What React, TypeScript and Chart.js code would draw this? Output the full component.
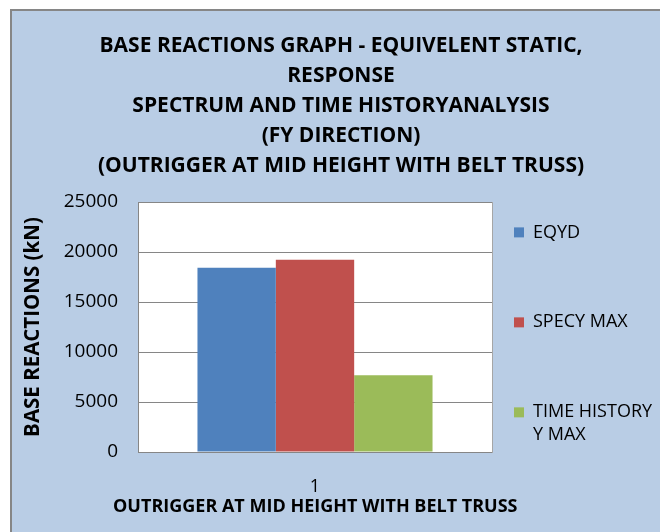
import React, { useEffect, useRef } from "react";
import { Chart, registerables } from "chart.js";

Chart.register(...registerables);

const categories = ["1"];
const seriesNames = ["EQYD", "SPECY MAX", "TIME HISTORY Y MAX"];
const legendLines = [["EQYD", "", ""], ["SPECY MAX", "", ""], ["TIME HISTORY", "Y MAX", "", ""]];
const eqydValues = [18430];
const specyMaxValues = [19230];
const timeHistoryValues = [7670];
const seriesColors = ["#4f81bd", "#c0504d", "#9bbb59"];
const titleLines = [
  "BASE REACTIONS GRAPH - EQUIVELENT STATIC,",
  "RESPONSE",
  "SPECTRUM AND TIME HISTORYANALYSIS",
  "(FY DIRECTION)",
  "(OUTRIGGER AT MID HEIGHT WITH BELT TRUSS)",
];
const yTitle = "BASE REACTIONS (kN)";
const xTitle = "OUTRIGGER AT MID HEIGHT WITH BELT TRUSS";
const yMin = 0;
const yMax = 25000;
const yStep = 5000;

const FONT = "'Open Sans'";

export default function App() {
  const ref = useRef<HTMLCanvasElement | null>(null);

  useEffect(() => {
    const canvas = ref.current;
    if (!canvas) return;

    const plotBg = {
      id: "plotBg",
      beforeDraw(chart: any) {
        const { ctx, chartArea } = chart;
        ctx.save();
        ctx.fillStyle = "#ffffff";
        ctx.fillRect(chartArea.left, chartArea.top, chartArea.right - chartArea.left, chartArea.bottom - chartArea.top);
        ctx.restore();
      },
      afterDraw(chart: any) {
        const { ctx, chartArea } = chart;
        ctx.save();
        ctx.strokeStyle = "#a6a6a6";
        ctx.lineWidth = 1;
        ctx.beginPath();
        ctx.moveTo(Math.round(chartArea.right) + 0.5, chartArea.top);
        ctx.lineTo(Math.round(chartArea.right) + 0.5, chartArea.bottom + 1);
        ctx.stroke();
        ctx.restore();
      },
    };

    const chart = new Chart(canvas, {
      type: "bar",
      data: {
        labels: categories,
        datasets: [
          { label: seriesNames[0], data: eqydValues, backgroundColor: seriesColors[0] },
          { label: seriesNames[1], data: specyMaxValues, backgroundColor: seriesColors[1] },
          { label: seriesNames[2], data: timeHistoryValues, backgroundColor: seriesColors[2] },
        ],
      },
      options: {
        responsive: false,
        animation: false,
        layout: { padding: { left: 22, top: 0, right: 0, bottom: 16 } },
        datasets: { bar: { barPercentage: 1, categoryPercentage: 0.664, borderWidth: 0 } },
        plugins: {
          tooltip: { enabled: false },
          title: {
            display: true,
            fullSize: true,
            text: titleLines,
            color: "#000000",
            font: { family: FONT, size: 21, weight: "bold", lineHeight: 1.4286 },
            padding: { top: 31, bottom: 21 },
          },
          subtitle: {
            display: true,
            position: "bottom",
            fullSize: true,
            // trailing spaces keep the axis title centred under the plot area
            text: xTitle + "           ",
            color: "#000000",
            font: { family: FONT, size: 18, weight: "bold", lineHeight: 1.0 },
            padding: { top: 0, bottom: 0 },
          },
          legend: {
            display: true,
            position: "right",
            align: "end",
            fullSize: true,
            maxWidth: 168,
            labels: {
              color: "#000000",
              boxWidth: 10,
              boxHeight: 10,
              padding: 22,
              font: { family: FONT, size: 18, lineHeight: 1.259 },
              generateLabels: () =>
                legendLines.map((lines, i) => ({
                  text: lines,
                  fillStyle: seriesColors[i],
                  strokeStyle: seriesColors[i],
                  lineWidth: 0,
                  hidden: false,
                  datasetIndex: i,
                })) as any,
            },
          },
        },
        scales: {
          x: {
            grid: { display: false, drawTicks: false },
            border: { display: true, color: "#868686", width: 1 },
            ticks: { color: "#000000", padding: 24, font: { family: FONT, size: 18 } },
            afterFit: (scale: any) => {
              scale.height = 46;
            },
          },
          y: {
            min: yMin,
            max: yMax,
            ticks: {
              stepSize: yStep,
              color: "#000000",
              padding: 20,
              font: { family: FONT, size: 19 },
              callback: (v: any) => String(v),
            },
            grid: { color: "#868686", lineWidth: 1, drawTicks: false },
            border: { display: true, color: "#868686", width: 1 },
            title: {
              display: true,
              text: yTitle,
              color: "#000000",
              font: { family: FONT, size: 20.5, weight: "bold", lineHeight: 1.0 },
              padding: { top: 1, bottom: 0 },
            },
            afterFit: (scale: any) => {
              scale.width = 116;
            },
          },
        },
      },
      plugins: [plotBg],
    });

    return () => chart.destroy();
  }, []);

  return (
    <div style={{ position: "fixed", left: 0, top: 0, width: 660, height: 532, background: "#ffffff", overflow: "hidden" }}>
      <div
        style={{
          position: "absolute",
          left: 10,
          top: 9,
          right: -10,
          bottom: -10,
          borderLeft: "2px solid #868686",
          borderTop: "2px solid #868686",
          background: "#b9cde5",
        }}
      />
      <canvas ref={ref} width={660} height={532} style={{ position: "absolute", left: 0, top: 0 }} />
    </div>
  );
}
